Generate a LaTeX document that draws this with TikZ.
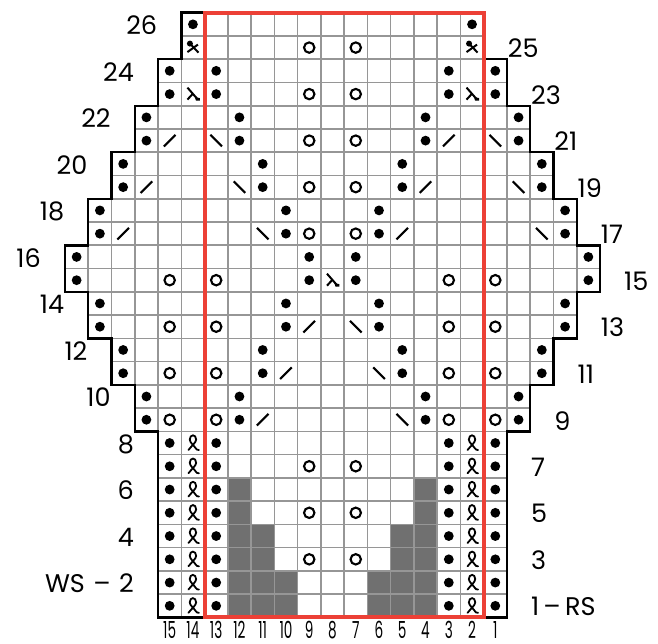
\documentclass[tikz,border=0pt]{standalone}
\usepackage{fontspec}
\usepackage{graphicx}
\setmainfont{Poppins}
\definecolor{chartred}{RGB}{236,64,54}
\definecolor{gridgray}{RGB}{150,150,150}
\definecolor{nostitch}{RGB}{112,112,112}
\tikzset{
  gridline/.style={draw=gridgray,line width=1.6pt},
  outline/.style={draw=black,line width=2.4pt,line join=miter},
  redbox/.style={draw=chartred,line width=4pt},
  rowlab/.style={font=\fontsize{25.5}{28}\selectfont,inner sep=0pt},
  collab/.style={font=\fontsize{23.5}{26}\selectfont,inner sep=0pt},
  kdot/.pic={\fill (0,0) circle[radius=4.9pt];},
  yo/.pic={\draw[line width=2.1pt] (0,0) circle[radius=5.2pt];},
  ssl/.pic={\draw[line width=2.1pt] (-5.8pt,-5.8pt) -- (5.8pt,5.8pt);},
  bsl/.pic={\draw[line width=2.1pt] (-5.8pt,5.8pt) -- (5.8pt,-5.8pt);},
  skp/.pic={\draw[line width=2pt] (-5.5pt,6.5pt) -- (5pt,-5.5pt);
            \draw[line width=2pt] (0pt,0.5pt) -- (-5.5pt,-5.5pt);
            \fill (2pt,-3pt) -- (7pt,-4pt) -- (7pt,-6.5pt) -- (3pt,-6.5pt) -- cycle;},
  xkp/.pic={\fill (-3pt,4pt) circle[radius=3pt];
            \draw[line width=2pt] (-3pt,4pt) -- (5.5pt,-5pt);
            \draw[line width=2pt] (5pt,3pt) -- (-5.5pt,-4.5pt);},
  twp/.pic={\draw[line width=1.8pt,line cap=round]
            (-4.5pt,-7pt) .. controls (-1.5pt,-3pt) and (3.2pt,0.5pt) .. (3.2pt,3.5pt)
            .. controls (3.2pt,6.2pt) and (1.6pt,7.7pt) .. (0pt,7.7pt)
            .. controls (-1.6pt,7.7pt) and (-3.2pt,6.2pt) .. (-3.2pt,3.5pt)
            .. controls (-3.2pt,0.5pt) and (1.5pt,-3pt) .. (3pt,-5.5pt)
            .. controls (3.5pt,-6.5pt) and (4.5pt,-7pt) .. (6pt,-7pt);}
}
\begin{document}
\begin{tikzpicture}[x=23.26pt,y=-23.26pt]
\useasboundingbox (-2.7945,-0.5460) rectangle (25.4944,27.1410);
% no-stitch cells
\foreach \p/\t in {7/6,15/6,8/4,14/4,9/2,13/2}
  \fill[nostitch] ({\p},{26-\t}) rectangle ({\p+1},26);
% grid
\foreach \k/\ps/\pe in {0/5/17,1/5/17,2/4/18,3/4/18,4/3/19,5/3/19,6/2/20,7/2/20,
  8/1/21,9/1/21,10/0/22,11/0/22,12/1/21,13/1/21,14/2/20,15/2/20,16/3/19,17/3/19,
  18/4/18,19/4/18,20/4/18,21/4/18,22/4/18,23/4/18,24/4/18,25/4/18}
  \foreach \p in {\ps,...,\pe}
    \draw[gridline] (\p,\k) rectangle ++(1,1);
% outline
\draw[outline] (5,0) -- (5,2) -- (4,2) -- (4,4) -- (3,4) -- (3,6) -- (2,6) -- (2,8)
  -- (1,8) -- (1,10) -- (0,10) -- (0,12) -- (1,12) -- (1,14) -- (2,14) -- (2,16)
  -- (3,16) -- (3,18) -- (4,18) -- (4,26) -- (19,26) -- (19,18) -- (20,18) -- (20,16)
  -- (21,16) -- (21,14) -- (22,14) -- (22,12) -- (23,12) -- (23,10) -- (22,10)
  -- (22,8) -- (21,8) -- (21,6) -- (20,6) -- (20,4) -- (19,4) -- (19,2) -- (18,2)
  -- (18,0) -- cycle;
% red repeat box
\draw[redbox] (6,0) rectangle (18,26);
% purl dots
\foreach \q in {5,17} \pic at ({\q+0.5},0.5) {kdot};
\foreach \r/\a in {24/4,23/4,22/3,21/3,20/2,19/2,18/1,17/1,16/0,15/0,14/1,13/1,
  12/2,11/2,10/3,9/3,8/4,7/4,6/4,5/4,4/4,3/4,2/4,1/4}
  \foreach \q in {\a,10-\a,12+\a,22-\a}
    \pic at ({\q+0.5},{26.5-\r}) {kdot};
% yarn overs
\foreach \r in {25,23,21,19,17,7,5,3}
  \foreach \q in {10,12} \pic at ({\q+0.5},{26.5-\r}) {yo};
\foreach \r in {15,13,11,9}
  \foreach \q in {4,6,16,18} \pic at ({\q+0.5},{26.5-\r}) {yo};
% decreases
\foreach \r/\q in {21/4,21/16,19/3,19/15,17/2,17/14,13/10,11/9,9/8}
  \pic at ({\q+0.5},{26.5-\r}) {ssl};
\foreach \r/\q in {21/6,21/18,19/7,19/19,17/8,17/20,13/12,11/13,9/14}
  \pic at ({\q+0.5},{26.5-\r}) {bsl};
\foreach \r/\q in {23/5,23/17,15/11}
  \pic at ({\q+0.5},{26.5-\r}) {skp};
\foreach \q in {5,17} \pic at ({\q+0.5},1.5) {xkp};
% twisted stitches
\foreach \r in {1,...,8}
  \foreach \q in {5,17} \pic at ({\q+0.5},{26.5-\r}) {twp};
% row labels, wrong side (left)
\foreach \r/\s in {26/5,24/4,22/3,20/2,18/1,16/0,14/1,12/2,10/3,8/4,6/4,4/4}
  \node[rowlab,anchor=east] (l\r) at ({\s-1.03},{26.54-\r}) {\r};
\node[rowlab,anchor=east] (l2) at (2.97,24.54) {WS\,\,–\,\,2};
% row labels, right side (right)
\foreach \r/\e in {25/18,23/19,21/20,19/21,17/22,15/23,13/22,11/21,9/20,7/19,5/19,3/19}
  \node[rowlab,anchor=west] (r\r) at ({\e+1.03},{26.54-\r}) {\r};
\node[rowlab,anchor=west] (r1) at (20.03,25.54) {1\,–\,RS};
% column numbers
\foreach \p in {4,...,18}{
  \pgfmathtruncatemacro{\n}{19-\p}
  \node[collab] (c\n) at ({\p+0.5},26.55) {\scalebox{0.58}[1]{\n}};
}
\end{tikzpicture}
\end{document}
